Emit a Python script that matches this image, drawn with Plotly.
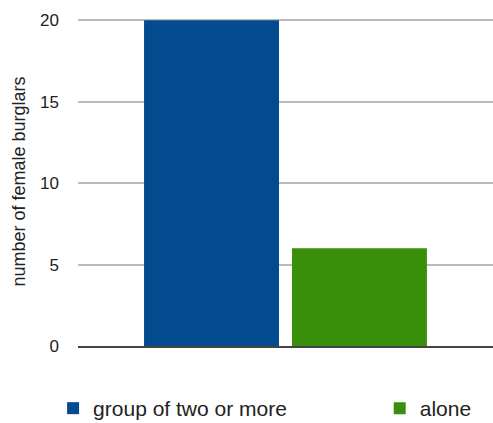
import plotly.graph_objects as go

categories = ["burglars"]
group_values = [20]
alone_values = [6]
series_names = ["group of two or more", "alone"]
y_ticks = [0, 5, 10, 15, 20]

fig = go.Figure()
fig.add_trace(go.Bar(x=categories, y=group_values, name=series_names[0],
                     marker=dict(color="#034a8f", line=dict(width=0)), legend="legend"))
fig.add_trace(go.Bar(x=categories, y=alone_values, name=series_names[1],
                     marker=dict(color="#3a8f0a", line=dict(width=0)), legend="legend2"))

fig.update_layout(
    width=493, height=423,
    margin=dict(l=78, r=0, t=17, b=77, autoexpand=False),
    paper_bgcolor="white", plot_bgcolor="white",
    barmode="group", bargap=0.287, bargroupgap=0.088,
    font=dict(family="Liberation Sans, Arial, sans-serif", color="#222"),
    xaxis=dict(showticklabels=False, showgrid=False, showline=True,
               linecolor="#444", linewidth=2, ticks=""),
    yaxis=dict(range=[0, 20.2], tickvals=y_ticks, showgrid=True,
               gridcolor="#bbbbbb", gridwidth=2, zeroline=False,
               tickfont=dict(size=17, color="#222"), ticklabelstandoff=18,
               title=dict(text="number of female burglars", font=dict(size=18, color="#222"),
                          standoff=9)),
    legend=dict(orientation="h", x=-0.06, xanchor="left", y=-0.19, yanchor="middle",
                font=dict(size=21, color="#222"), bgcolor="rgba(0,0,0,0)"),
    legend2=dict(orientation="h", x=0.727, xanchor="left", y=-0.19, yanchor="middle",
                 font=dict(size=21, color="#222"), bgcolor="rgba(0,0,0,0)"),
    showlegend=True,
)

fig.write_html("out.html")
